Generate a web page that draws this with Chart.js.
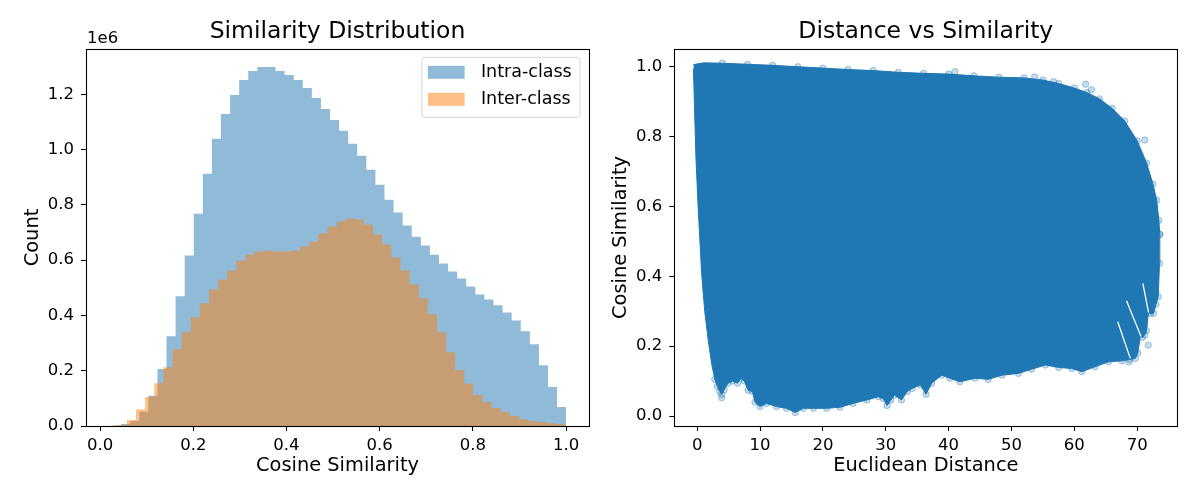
<!DOCTYPE html>
<html><head><meta charset="utf-8">
<script src="https://cdn.jsdelivr.net/npm/chart.js@4.4.0/dist/chart.umd.min.js"></script>
<style>
html,body{margin:0;padding:0;background:#fff;}
#wrap{position:relative;width:1200px;height:500px;overflow:hidden;}
canvas{position:absolute;top:0;}
#c1{left:0;} #c2{left:600px;}
</style></head><body>
<div id="wrap"><canvas id="c1" width="600" height="500"></canvas><canvas id="c2" width="600" height="500"></canvas></div>
<script>
// ---------- DATA ----------
// Histogram: 50 equal-width bins per series, range [start, end]
const intraRange = [0.0257, 1.0];
const interRange = [0.0186, 0.9964];
const intraCounts = [2000, 7000, 18000, 52000, 109000, 206000, 325000, 469000, 617000, 768000,
  913000, 1039000, 1129000, 1198000, 1252000, 1284000, 1299000, 1299000, 1284000, 1270000,
  1252000, 1223000, 1187000, 1147000, 1107000, 1068000, 1021000, 978000, 927000, 873000,
  819000, 772000, 725000, 685000, 653000, 620000, 588000, 559000, 534000, 505000,
  476000, 458000, 437000, 411000, 382000, 343000, 296000, 220000, 141000, 69000];
const interCounts = [1000, 3600, 21600, 60100, 104600, 155100, 212800, 277800, 339100, 393200,
  443700, 494200, 530300, 562800, 598800, 620500, 631300, 634900, 631300, 631300,
  634900, 649400, 667400, 696200, 721500, 739500, 750400, 746800, 728700, 692600,
  656600, 609700, 562800, 512300, 461800, 404000, 339100, 267000, 202000, 154000,
  111800, 86600, 64900, 50500, 36100, 25300, 18000, 14400, 10800, 7200];
const histXTicks = [0, 0.2, 0.4, 0.6, 0.8, 1.0];
const histXTickLabels = ['0.0', '0.2', '0.4', '0.6', '0.8', '1.0'];
const histYTicks = [0, 200000, 400000, 600000, 800000, 1000000, 1200000];
const histYTickLabels = ['0.0', '0.2', '0.4', '0.6', '0.8', '1.0', '1.2'];
const histLabels = ['Intra-class', 'Inter-class'];

// Scatter: outline of the dense point cloud (Euclidean distance, cosine similarity)
const upperX = [-0.6, 1, 4, 8, 12, 16, 20, 24, 28, 32, 36, 40, 44, 48, 52, 55, 57.5, 60, 62, 64, 66, 68, 70, 71.5, 72.5, 73.1, 73.45, 73.6];
const upperY = [1.006, 1.011, 1.010, 1.007, 1.004, 1.0, 0.996, 0.992, 0.989, 0.984, 0.981, 0.979, 0.974, 0.970, 0.968, 0.962, 0.952, 0.939, 0.926, 0.908, 0.881, 0.845, 0.788, 0.724, 0.664, 0.618, 0.56, 0.52];
const lowerX = [-0.6, -0.45, -0.2, 0.15, 0.7, 1.2, 1.75, 2.3, 2.8, 3.2, 3.6, 3.9, 4.3, 4.9, 5.6, 6.4, 7.0, 7.5, 8.1, 8.8,
  9.2, 10.0, 11.0, 12.6, 14.2, 15.6, 16.9, 18.5, 20.6, 22.7, 24.8, 27.0, 28.8, 29.6, 30.2, 30.8, 31.4, 32.5, 33.4, 34.2,
  35.5, 36.4, 37.3, 38.9, 40.2, 41.8, 44.2, 46.3, 48.5, 51.1, 53.2, 55.4, 57.5, 59.6, 61.2, 63.3, 65.4, 67.6, 68.8, 69.7,
  70.1, 70.55, 70.8, 71.2, 71.5, 71.8, 72.1, 72.6, 73.0, 73.35, 73.55, 73.6];
const lowerY = [0.995, 0.90, 0.74, 0.60, 0.41, 0.30, 0.218, 0.15, 0.105, 0.085, 0.07, 0.062, 0.075, 0.094, 0.10, 0.094, 0.108, 0.10, 0.074, 0.07,
  0.04, 0.027, 0.036, 0.027, 0.022, 0.01, 0.022, 0.022, 0.022, 0.025, 0.036, 0.046, 0.055, 0.05, 0.03, 0.045, 0.06, 0.046, 0.07, 0.079,
  0.089, 0.062, 0.094, 0.117, 0.108, 0.098, 0.108, 0.105, 0.117, 0.122, 0.134, 0.146, 0.139, 0.136, 0.127, 0.141, 0.155, 0.158, 0.162, 0.165,
  0.18, 0.235, 0.225, 0.232, 0.245, 0.30, 0.293, 0.294, 0.32, 0.342, 0.437, 0.52];
// stray points on the rim of the cloud
const rimX = [41.0, 53.7, 56.7, 61.8, 62.7, 71.2, 71.75, 3.9, 68.7];
const rimY = [0.986, 0.971, 0.957, 0.950, 0.934, 0.79, 0.203, 0.052, 0.155];
// thin empty wedges between the streaks at the right end (start/end points)
const gapX = [66.9, 68.9, null, 68.3, 70.6, null, 70.9, 71.8];
const gapY = [0.27, 0.165, null, 0.33, 0.228, null, 0.38, 0.297];
const scatXTicks = [0, 10, 20, 30, 40, 50, 60, 70];
const scatXTickLabels = ['0', '10', '20', '30', '40', '50', '60', '70'];
const scatYTicks = [0, 0.2, 0.4, 0.6, 0.8, 1.0];
const scatYTickLabels = ['0.0', '0.2', '0.4', '0.6', '0.8', '1.0'];

// ---------- STYLE ----------
const FONT = 'DejaVu Sans';
const INTRA_FILL = 'rgba(31,119,180,0.5)';
const INTER_FILL = 'rgba(255,127,14,0.5)';
const BLUE = '#1f77b4';
const RIM_FILL = 'rgba(31,119,180,0.25)';
const RIM_EDGE = 'rgba(31,119,180,0.35)';
Chart.defaults.font.family = FONT;
Chart.defaults.color = '#000';

function histPoints(range, counts) {
  const w = (range[1] - range[0]) / counts.length;
  const pts = counts.map((c, i) => ({x: range[0] + i * w, y: c}));
  pts.push({x: range[1], y: counts[counts.length - 1]});
  return pts;
}
function zipPts(xs, ys) { return xs.map((x, i) => ({x: x, y: ys[i]})); }
// no rim circles along the crisp left edge of the cloud
const rimRadius = c => (c.raw && c.raw.x < 2.6) ? 0 : 3.2;

const framePlugin = {
  id: 'frame',
  afterDatasetsDraw(chart) {
    const {ctx, chartArea: a} = chart;
    ctx.save();
    ctx.strokeStyle = '#000';
    ctx.lineWidth = 1.1;
    const l = Math.round(a.left) + 0.5, t = Math.round(a.top) + 0.5;
    const r = Math.round(a.right) + 0.5, b = Math.round(a.bottom) + 0.5;
    ctx.strokeRect(l, t, r - l, b - t);
    ctx.restore();
  }
};
const offsetTextPlugin = {
  id: 'offsetText',
  afterDraw(chart, args, opts) {
    if (!opts.text) return;
    const {ctx, chartArea: a} = chart;
    ctx.save();
    ctx.font = '16.5px "' + FONT + '"';
    ctx.fillStyle = '#000';
    ctx.textBaseline = 'alphabetic';
    ctx.textAlign = 'left';
    ctx.fillText(opts.text, a.left + 1, a.top - 5.7);
    ctx.restore();
  }
};
const mplLegendPlugin = {
  id: 'mplLegend',
  afterDraw(chart, args, opts) {
    if (!opts.items) return;
    const {ctx, chartArea: a} = chart;
    ctx.save();
    ctx.font = '17.5px "' + FONT + '"';
    const tw = Math.max(...opts.items.map(it => ctx.measureText(it.label).width));
    const w = 59 + tw + 8.3, h = 60;
    const x = a.right - 9 - w, y = a.top + 8.3;
    const r = 3;
    ctx.beginPath();
    ctx.moveTo(x + r, y); ctx.lineTo(x + w - r, y); ctx.arcTo(x + w, y, x + w, y + r, r);
    ctx.lineTo(x + w, y + h - r); ctx.arcTo(x + w, y + h, x + w - r, y + h, r);
    ctx.lineTo(x + r, y + h); ctx.arcTo(x, y + h, x, y + h - r, r);
    ctx.lineTo(x, y + r); ctx.arcTo(x, y, x + r, y, r); ctx.closePath();
    ctx.fillStyle = 'rgba(255,255,255,0.8)'; ctx.fill();
    ctx.strokeStyle = 'rgba(204,204,204,0.8)'; ctx.lineWidth = 1; ctx.stroke();
    opts.items.forEach((it, i) => {
      const cy = y + 15 + i * 27;
      ctx.fillStyle = it.color;
      ctx.fillRect(x + 6, cy - 6.5, 36.7, 13);
      ctx.fillStyle = '#000';
      ctx.textBaseline = 'middle';
      ctx.textAlign = 'left';
      ctx.fillText(it.label, x + 59, cy + 0.5);
    });
    ctx.restore();
  }
};

function xAxis(min, max, ticks, labels, title) {
  return {
    type: 'linear', position: 'bottom', min: min, max: max,
    afterBuildTicks: s => { s.ticks = ticks.map(v => ({value: v})); },
    afterFit: s => { s.height = 74; },
    ticks: {font: {size: 16.5}, color: '#000', padding: 4.4, maxRotation: 0, autoSkip: false,
      callback: (v, i) => labels[i]},
    grid: {display: true, drawOnChartArea: false, drawTicks: true, tickLength: 5, tickWidth: 1.1, tickColor: '#000', color: '#000'},
    border: {display: false},
    title: {display: true, text: title, font: {size: 19.4}, color: '#000', padding: {top: 0, bottom: 22}}
  };
}
function yAxis(min, max, ticks, labels, title) {
  return {
    type: 'linear', position: 'left', min: min, max: max,
    afterBuildTicks: s => { s.ticks = ticks.map(v => ({value: v})); },
    afterFit: s => { s.width = 74; },
    ticks: {font: {size: 16.5}, color: '#000', padding: 7, autoSkip: false,
      callback: (v, i) => labels[i]},
    grid: {display: true, drawOnChartArea: false, drawTicks: true, tickLength: 5, tickWidth: 1.1, tickColor: '#000', color: '#000'},
    border: {display: false},
    title: {display: true, text: title, font: {size: 19.4}, color: '#000', padding: {top: 8.9, bottom: 0}}
  };
}
function titleOpts(text) {
  return {display: true, text: text, fullSize: false, color: '#000',
    font: {size: 23.5, weight: 'normal'}, padding: {top: 17.8, bottom: 3}};
}

// ---------- LEFT: histogram ----------
new Chart(document.getElementById('c1'), {
  type: 'line',
  data: {
    datasets: [
      {label: histLabels[1], data: histPoints(interRange, interCounts), stepped: true, fill: 'origin',
        backgroundColor: INTER_FILL, borderColor: 'rgba(0,0,0,0)', borderWidth: 0, pointRadius: 0, order: 0},
      {label: histLabels[0], data: histPoints(intraRange, intraCounts), stepped: true, fill: 'origin',
        backgroundColor: INTRA_FILL, borderColor: 'rgba(0,0,0,0)', borderWidth: 0, pointRadius: 0, order: 1}
    ]
  },
  options: {
    responsive: false, animation: false, events: [],
    layout: {padding: {left: 12, right: 11, top: 0, bottom: 0}},
    scales: {
      x: xAxis(-0.0301, 1.049, histXTicks, histXTickLabels, 'Cosine Similarity'),
      y: yAxis(0, 1364000, histYTicks, histYTickLabels, 'Count')
    },
    plugins: {
      legend: {display: false}, tooltip: {enabled: false},
      title: titleOpts('Similarity Distribution'),
      offsetText: {text: '1e6'},
      mplLegend: {items: [{label: histLabels[0], color: INTRA_FILL}, {label: histLabels[1], color: INTER_FILL}]}
    }
  },
  plugins: [framePlugin, offsetTextPlugin, mplLegendPlugin]
});

// ---------- RIGHT: scatter ----------
new Chart(document.getElementById('c2'), {
  type: 'scatter',
  data: {
    datasets: [
      {label: 'gaps', data: zipPts(gapX, gapY), showLine: true, spanGaps: false, borderColor: '#ffffff', borderWidth: 1.3,
        pointRadius: 0, fill: false},
      {label: 'upper', data: zipPts(upperX, upperY), showLine: true, borderColor: BLUE, borderWidth: 1, backgroundColor: BLUE,
        fill: '+1', pointRadius: rimRadius, pointBackgroundColor: RIM_FILL, pointBorderColor: RIM_EDGE, pointBorderWidth: 1},
      {label: 'lower', data: zipPts(lowerX, lowerY), showLine: true, borderColor: BLUE, borderWidth: 1, backgroundColor: BLUE,
        fill: false, pointRadius: rimRadius, pointBackgroundColor: RIM_FILL, pointBorderColor: RIM_EDGE, pointBorderWidth: 1},
      {label: 'rim', data: zipPts(rimX, rimY), showLine: false, pointRadius: 3.2,
        pointBackgroundColor: RIM_FILL, pointBorderColor: RIM_EDGE, pointBorderWidth: 1}
    ]
  },
  options: {
    responsive: false, animation: false, events: [],
    layout: {padding: {left: 0.3, right: 22.7, top: 0, bottom: 0}},
    scales: {
      x: xAxis(-3.64, 76.38, scatXTicks, scatXTickLabels, 'Euclidean Distance'),
      y: yAxis(-0.0286, 1.0507, scatYTicks, scatYTickLabels, 'Cosine Similarity')
    },
    plugins: {
      legend: {display: false}, tooltip: {enabled: false},
      title: titleOpts('Distance vs Similarity')
    }
  },
  plugins: [framePlugin]
});
</script>
</body></html>
